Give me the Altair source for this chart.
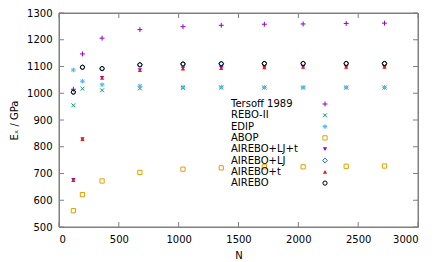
import altair as alt
import pandas as pd

# ---------------- data ----------------
N = [120, 196, 360, 676, 1036, 1356, 1716, 2040, 2400, 2720]
tersoff = [1015, 1147, 1206, 1238, 1249, 1254, 1258, 1259, 1261, 1262]
rebo2 = [955, 1017, 1011, 1018, 1020, 1021, 1021, 1021, 1021, 1021]
edip = [1087, 1045, 1032, 1027, 1023, 1023, 1022, 1022, 1022, 1022]
abop = [561, 621, 672, 704, 716, 721, 725, 725, 727, 728]
airebo_ljt = [676, 829, 1058, 1087, 1093, 1095, 1097, 1098, 1098, 1098]
airebo_lj = [1005, 1098, 1093, 1107, 1110, 1111, 1112, 1112, 1112, 1112]
airebo_t = [675, 828, 1057, 1086, 1092, 1094, 1097, 1098, 1098, 1098]
airebo = [1004, 1097, 1092, 1106, 1109, 1110, 1111, 1111, 1111, 1111]

labels = ["Tersoff 1989", "REBO-II", "EDIP", "ABOP",
          "AIREBO+LJ+t", "AIREBO+LJ", "AIREBO+t", "AIREBO"]
values = [tersoff, rebo2, edip, abop, airebo_ljt, airebo_lj, airebo_t, airebo]

y_ticks = [500, 600, 700, 800, 900, 1000, 1100, 1200, 1300]
x_ticks = [0, 500, 1000, 1500, 2000, 2500, 3000]
X_MIN, X_MAX, Y_MIN, Y_MAX = 0, 3000, 500, 1300

# ---------------- styles ----------------
PLUS = "M-1,0L1,0M0,-1L0,1"
XSHAPE = "M-1,-1L1,1M-1,1L1,-1"
STAR = "M-1,0L1,0M0,-1L0,1M-0.75,-0.75L0.75,0.75M-0.75,0.75L0.75,-0.75"
styles = [
    dict(color="#9400d3", shape=PLUS, filled=False, size=24),
    dict(color="#009e73", shape=XSHAPE, filled=False, size=15),
    dict(color="#56b4e9", shape=STAR, filled=False, size=22),
    dict(color="#e69f00", shape="square", filled=False, size=18),
    dict(color="#9400d3", shape="triangle-down", filled=True, size=18),
    dict(color="#0072b2", shape="diamond", filled=False, size=22),
    dict(color="#e51e10", shape="triangle-up", filled=True, size=18),
    dict(color="#000000", shape="circle", filled=False, size=18),
]

W, H = 359, 214
FONT = "DejaVu Sans"
FRAME = "#808080"
TICK_LEN = 5

x_scale = alt.Scale(domain=[X_MIN, X_MAX], nice=False, zero=False)
y_scale = alt.Scale(domain=[Y_MIN, Y_MAX], nice=False, zero=False)

x_axis = alt.Axis(values=x_ticks, ticks=False, domain=False, grid=False,
                  format="d", labelFont=FONT, labelFontSize=10,
                  labelColor="black", labelPadding=7, title="N",
                  titleFont=FONT, titleFontSize=10, titleFontWeight="normal",
                  titleColor="black", titlePadding=6)
y_axis = alt.Axis(values=y_ticks, ticks=False, domain=False, grid=False,
                  format="d", labelFont=FONT, labelFontSize=10,
                  labelColor="black", labelPadding=7, title="Eₓ / GPa",
                  titleFont=FONT, titleFontSize=10, titleFontWeight="normal",
                  titleColor="black", titlePadding=7)

X = alt.X("N:Q", scale=x_scale, axis=x_axis)
Y = alt.Y("E:Q", scale=y_scale, axis=y_axis)

layers = []

# data series
for lab, vals, st in zip(labels, values, styles):
    df = pd.DataFrame({"N": N, "E": vals})
    layers.append(alt.Chart(df).mark_point(
        shape=st["shape"], filled=st["filled"], color=st["color"],
        size=st["size"], strokeWidth=1, opacity=1).encode(x=X, y=Y))

# gnuplot-style key (text left, symbol right)
KEY_X_TEXT, KEY_X_SYM, KEY_Y0, KEY_DY = 172, 266, 91, 11.3
for i, (lab, st) in enumerate(zip(labels, styles)):
    d = pd.DataFrame({"label": [lab]})
    yy = KEY_Y0 + i * KEY_DY
    layers.append(alt.Chart(d).mark_text(
        align="left", baseline="middle", font=FONT, fontSize=10,
        color="black").encode(
        x=alt.value(KEY_X_TEXT), y=alt.value(yy), text="label:N"))
    layers.append(alt.Chart(d).mark_point(
        shape=st["shape"], filled=st["filled"], color=st["color"],
        size=st["size"], strokeWidth=1, opacity=1).encode(
        x=alt.value(KEY_X_SYM), y=alt.value(yy)))

# frame: one symbol whose custom path is the plot rectangle
ratio = H / W
frame_path = f"M-1,{-ratio:.5f}L1,{-ratio:.5f}L1,{ratio:.5f}L-1,{ratio:.5f}Z"
layers.append(alt.Chart(pd.DataFrame({"k": [0]})).mark_point(
    shape=frame_path, filled=False, color=FRAME, strokeWidth=1, opacity=1,
    size=W * W).encode(x=alt.value(W / 2), y=alt.value(H / 2)))

# inward tick marks on all four sides, as one-sided symbol paths
tick_size = (2 * TICK_LEN) ** 2
ytk = pd.DataFrame({"E": y_ticks})
xtk = pd.DataFrame({"N": x_ticks})
for xpos, path in ((0, "M0,0L1,0"), (W, "M0,0L-1,0")):
    layers.append(alt.Chart(ytk).mark_point(
        shape=path, filled=False, color=FRAME, strokeWidth=1, opacity=1,
        size=tick_size).encode(y=Y, x=alt.value(xpos)))
for ypos, path in ((0, "M0,0L0,1"), (H, "M0,0L0,-1")):
    layers.append(alt.Chart(xtk).mark_point(
        shape=path, filled=False, color=FRAME, strokeWidth=1, opacity=1,
        size=tick_size).encode(x=X, y=alt.value(ypos)))

chart = alt.layer(*layers).properties(
    width=W, height=H, autosize="none", background="white",
    padding={"left": 51, "top": 5, "right": 10, "bottom": 33},
).configure_view(stroke=FRAME, strokeWidth=1)

chart.save("out.html", embed_options={"renderer": "svg", "actions": False})
